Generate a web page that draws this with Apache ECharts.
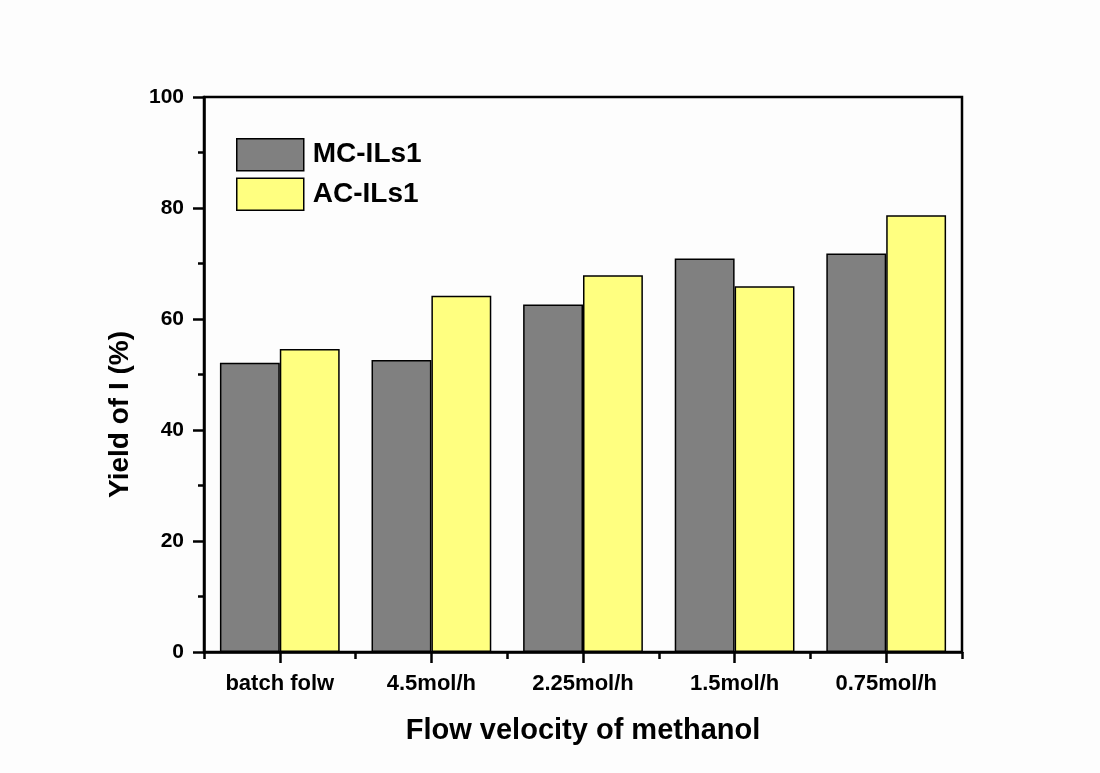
<!DOCTYPE html>
<html>
<head>
<meta charset="utf-8">
<script src="https://cdn.jsdelivr.net/npm/echarts@6/dist/echarts.min.js"></script>
<style>
  html, body { margin: 0; padding: 0; background: #fdfdfd; }
  #chart { width: 1100px; height: 773px; }
</style>
</head>
<body>
<div id="chart"></div>
<script>
// categories along the x axis
const categories = ['batch folw', '4.5mol/h', '2.25mol/h', '1.5mol/h', '0.75mol/h']
// yield of I (%)
const mcValues = [52.1, 52.6, 62.6, 70.9, 71.8]
const acValues = [54.6, 64.2, 67.9, 65.9, 78.7]

const font = 'Liberation Sans, Arial, sans-serif'
const chart = echarts.init(document.getElementById('chart'))

chart.setOption({
  backgroundColor: '#fdfdfd',
  animation: false,
  grid: {
    left: 204,
    top: 97,
    right: 138,
    bottom: 121,
    show: true,
    borderColor: '#000',
    borderWidth: 2.5,
    backgroundColor: 'transparent'
  },
  legend: {
    left: 231,
    top: 133,
    orient: 'vertical',
    icon: 'rect',
    itemWidth: 67,
    itemHeight: 32,
    itemGap: 6,
    itemStyle: { borderColor: '#000', borderWidth: 1.5 },
    textStyle: { fontFamily: font, fontWeight: 'bold', fontSize: 28, color: '#000', padding: [0, 0, 0, 4] },
    data: ['MC-ILs1', 'AC-ILs1']
  },
  xAxis: [
    {
      type: 'category',
      data: categories,
      name: 'Flow velocity of methanol',
      nameLocation: 'middle',
      nameGap: 64,
      nameTextStyle: { fontFamily: font, fontWeight: 'bold', fontSize: 29, color: '#000' },
      axisLine: { lineStyle: { color: '#000', width: 2.5 } },
      axisTick: { show: false },
      axisLabel: { margin: 21, fontFamily: font, fontWeight: 'bold', fontSize: 22, color: '#000' }
    },
    {
      // ticks: short at group edges, long at group centres
      type: 'value',
      position: 'bottom',
      min: 0,
      max: 5,
      interval: 1,
      axisLine: { show: false },
      axisTick: { show: true, length: 7, lineStyle: { color: '#000', width: 2.5 } },
      minorTick: { show: true, splitNumber: 2, length: 11, lineStyle: { color: '#000', width: 2.5 } },
      axisLabel: { show: false },
      splitLine: { show: false }
    }
  ],
  yAxis: {
    type: 'value',
    min: 0,
    max: 100,
    interval: 20,
    name: 'Yield of I (%)',
    nameLocation: 'middle',
    nameGap: 70,
    nameTextStyle: { fontFamily: font, fontWeight: 'bold', fontSize: 28, color: '#000', padding: [0, 80, 0, 0] },
    axisLine: { show: true, lineStyle: { color: '#000', width: 2.5 } },
    axisTick: { show: true, length: 11, lineStyle: { color: '#000', width: 2.5 } },
    minorTick: { show: true, splitNumber: 2, length: 6, lineStyle: { color: '#000', width: 2.5 } },
    axisLabel: { margin: 20, fontFamily: font, fontWeight: 'bold', fontSize: 21, color: '#000' },
    splitLine: { show: false }
  },
  series: [
    {
      name: 'MC-ILs1',
      type: 'bar',
      data: mcValues,
      barGap: '0%',
      barCategoryGap: '21%',
      itemStyle: { color: '#808080', borderColor: '#000', borderWidth: 1.5 }
    },
    {
      name: 'AC-ILs1',
      type: 'bar',
      data: acValues,
      barGap: '0%',
      barCategoryGap: '21%',
      itemStyle: { color: '#ffff80', borderColor: '#000', borderWidth: 1.5 }
    }
  ]
})
</script>
</body>
</html>
